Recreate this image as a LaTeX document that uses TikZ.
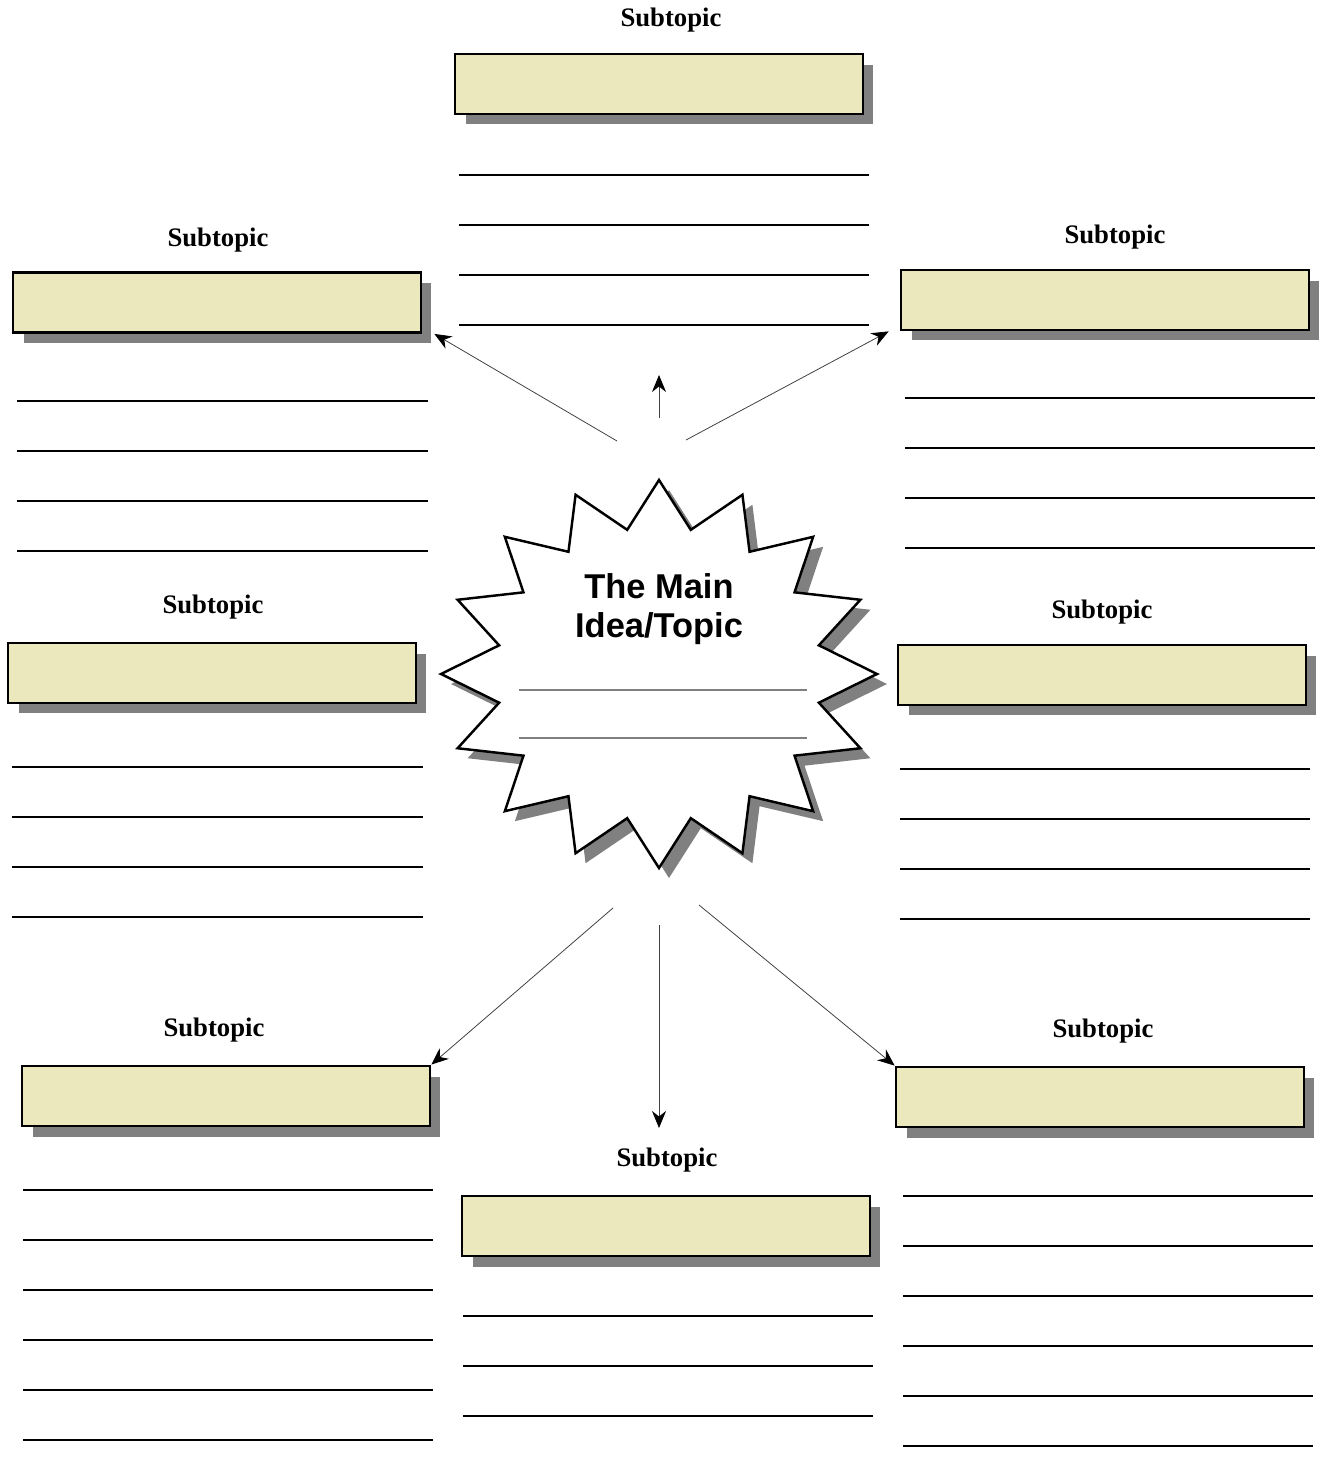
\documentclass[tikz,border=0pt]{standalone}
\usepackage{fontspec}
\setmainfont{Liberation Serif}
\newfontfamily\headfont{Liberation Sans}
\usetikzlibrary{arrows.meta,shadows}
\definecolor{boxfill}{RGB}{235,232,189}

\begin{document}
\begin{tikzpicture}[x=0.02cm, y=-0.02cm,
    subbox/.style = {rectangle, draw, line width=1.6pt, fill=boxfill, minimum width=8.16cm, minimum height=1.2cm,
        drop shadow={shadow xshift=0.21cm, shadow yshift=-0.21cm, fill=black!50, opacity=1}},
    sublabel/.style = {font=\bfseries\fontsize{15.2}{17}\selectfont},
    writeline/.style = {line width=0.6pt},
    link/.style = {line width=0.45pt, black!75, -{Stealth[length=3.4mm, width=2.8mm, inset=1.1mm, color=black]}}]

    \useasboundingbox (0,0) rectangle (1325,1463);

    \node[subbox] (top) at (659,84) {};
    \node[subbox] (upleft) at (217,302.5) {};
    \node[subbox] (upright) at (1105,300) {};
    \node[subbox] (midleft) at (212,673) {};
    \node[subbox] (midright) at (1102,675) {};
    \node[subbox] (lowleft) at (226,1096) {};
    \node[subbox] (bottom) at (666,1226) {};
    \node[subbox] (lowright) at (1100,1097) {};

    \node[sublabel] at (671,20) {Subtopic};
    \node[sublabel] at (218,240) {Subtopic};
    \node[sublabel] at (1115,237) {Subtopic};
    \node[sublabel] at (213,607) {Subtopic};
    \node[sublabel] at (1102,612) {Subtopic};
    \node[sublabel] at (214,1030) {Subtopic};
    \node[sublabel] at (667,1160) {Subtopic};
    \node[sublabel] at (1103,1031) {Subtopic};

    \foreach \y in {175,225,275,325} \draw[writeline] (459,\y) -- (869,\y);
    \foreach \y in {401,451,501,551} \draw[writeline] (17,\y) -- (428,\y);
    \foreach \y in {398,448,498,548} \draw[writeline] (905,\y) -- (1315,\y);
    \foreach \y in {767,817,867,917} \draw[writeline] (12,\y) -- (423,\y);
    \foreach \y in {769,819,869,919} \draw[writeline] (900,\y) -- (1310,\y);
    \foreach \y in {1190,1240,...,1440} \draw[writeline] (23,\y) -- (433,\y);
    \foreach \y in {1316,1366,1416} \draw[writeline] (463,\y) -- (873,\y);
    \foreach \y in {1196,1246,...,1446} \draw[writeline] (903,\y) -- (1313,\y);

    \coordinate (main) at (659,674);
    \fill[black!50, shift={(669,684)}] plot[samples at={0,...,31}, variable=\i]
        ({cos(90+\i*11.25)*(218-55*mod(\i,2))}, {sin(90+\i*11.25)*(194-47*mod(\i,2))}) -- cycle;
    \draw[line width=1.4pt, fill=white, shift={(main)}] plot[samples at={0,...,31}, variable=\i]
        ({cos(90+\i*11.25)*(218-55*mod(\i,2))}, {sin(90+\i*11.25)*(194-47*mod(\i,2))}) -- cycle;

    \node[font=\headfont\bfseries\fontsize{19.6}{22.4}\selectfont, align=center] (title) at (659,609) {The Main\\Idea/Topic};
    \draw[black!50, line width=0.8pt] (519,690) -- (807,690);
    \draw[black!50, line width=0.8pt] (519,738) -- (807,738);

    \coordinate (s1) at (617,441);
    \coordinate (s2) at (659,418);
    \coordinate (t2) at (659,375);
    \coordinate (s3) at (686,440);
    \coordinate (s4) at (613,908);
    \coordinate (s5) at (659,925);
    \coordinate (t5) at (659,1128);
    \coordinate (s6) at (699,905);

    \draw[link] (s1) -- ([xshift=0.24cm]upleft.south east);
    \draw[link] (s2) -- (t2);
    \draw[link] (s3) -- ([xshift=-0.22cm]upright.south west);
    \draw[link] (s4) -- (lowleft.north east);
    \draw[link] (s5) -- (t5);
    \draw[link] (s6) -- (lowright.north west);

\end{tikzpicture}
\end{document}
